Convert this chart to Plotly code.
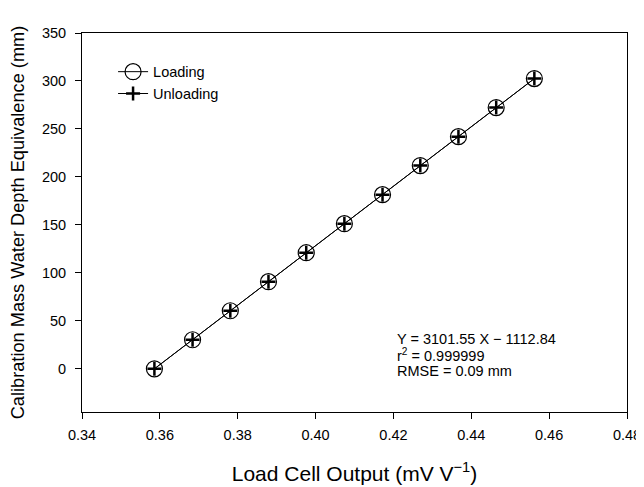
import plotly.graph_objects as go

x_load = [0.3586, 0.3684, 0.3781, 0.3879, 0.3976, 0.4074, 0.4172, 0.4269, 0.4367, 0.4464, 0.4562]
y_load = [0, 30.3, 60.5, 90.8, 121.0, 151.3, 181.5, 211.8, 242.0, 272.3, 302.5]
x_unload = [0.3586, 0.3684, 0.3781, 0.3879, 0.3976, 0.4074, 0.4172, 0.4269, 0.4367, 0.4464, 0.4562]
y_unload = [0, 30.3, 60.5, 90.8, 121.0, 151.3, 181.5, 211.8, 242.0, 272.3, 302.5]

x_ticks = [0.34, 0.36, 0.38, 0.40, 0.42, 0.44, 0.46, 0.48]
x_ticklabels = ["0.34", "0.36", "0.38", "0.40", "0.42", "0.44", "0.46", "0.48"]
y_ticks = [0, 50, 100, 150, 200, 250, 300, 350]

fit_lines = ["Y = 3101.55 X \u2212 1112.84", "r<sup>2</sup> = 0.999999", "RMSE = 0.09 mm"]
fit_line_y = [0.192, 0.150, 0.108]

FONT = "Liberation Sans, Arial, sans-serif"

fig = go.Figure()
fig.add_trace(go.Scatter(
    x=x_load, y=y_load, mode="lines+markers", name="Loading",
    line=dict(color="black", width=1),
    marker=dict(symbol="circle-open", size=16, color="black", line=dict(width=1.2, color="black")),
))
fig.add_trace(go.Scatter(
    x=x_unload, y=y_unload, mode="lines+markers", name="Unloading",
    line=dict(color="black", width=1),
    marker=dict(symbol="cross-thin-open", size=10, color="black", line=dict(width=2.5, color="black")),
))

for txt, yy in zip(fit_lines, fit_line_y):
    fig.add_annotation(
        x=0.575, y=yy, xref="paper", yref="paper", xanchor="left", yanchor="middle",
        text=txt, showarrow=False, align="left",
        font=dict(family=FONT, size=14.5, color="black"),
    )

fig.update_layout(
    width=644, height=487,
    margin=dict(l=74, r=25, t=25, b=83, autoexpand=False),
    paper_bgcolor="white", plot_bgcolor="white",
    font=dict(family=FONT, size=14.5, color="black"),
    showlegend=True,
    legend=dict(x=0.057, y=0.94, xanchor="left", yanchor="top", bgcolor="rgba(0,0,0,0)",
                font=dict(family=FONT, size=14.5, color="black"), tracegroupgap=0),
    xaxis=dict(
        range=[0.34, 0.48], tickvals=x_ticks, ticktext=x_ticklabels, automargin=False,
        showline=True, linecolor="black", linewidth=1, mirror=True,
        ticks="outside", ticklen=6, tickcolor="black", showgrid=False, zeroline=False,
        ticklabelstandoff=4,
        tickfont=dict(family=FONT, size=14.5),
        title=dict(text="Load Cell Output (mV V<sup>\u22121</sup>)", font=dict(family=FONT, size=21), standoff=23),
    ),
    yaxis=dict(
        range=[-45, 350], tickvals=y_ticks, automargin=False,
        showline=True, linecolor="black", linewidth=1, mirror=True,
        ticks="outside", ticklen=6, tickcolor="black", showgrid=False, zeroline=False,
        ticklabelstandoff=6,
        tickfont=dict(family=FONT, size=14.5),
        title=dict(text="Calibration Mass Water Depth Equivalence (mm)", font=dict(family=FONT, size=18.2), standoff=21),
    ),
)

fig.write_html("out.html")
